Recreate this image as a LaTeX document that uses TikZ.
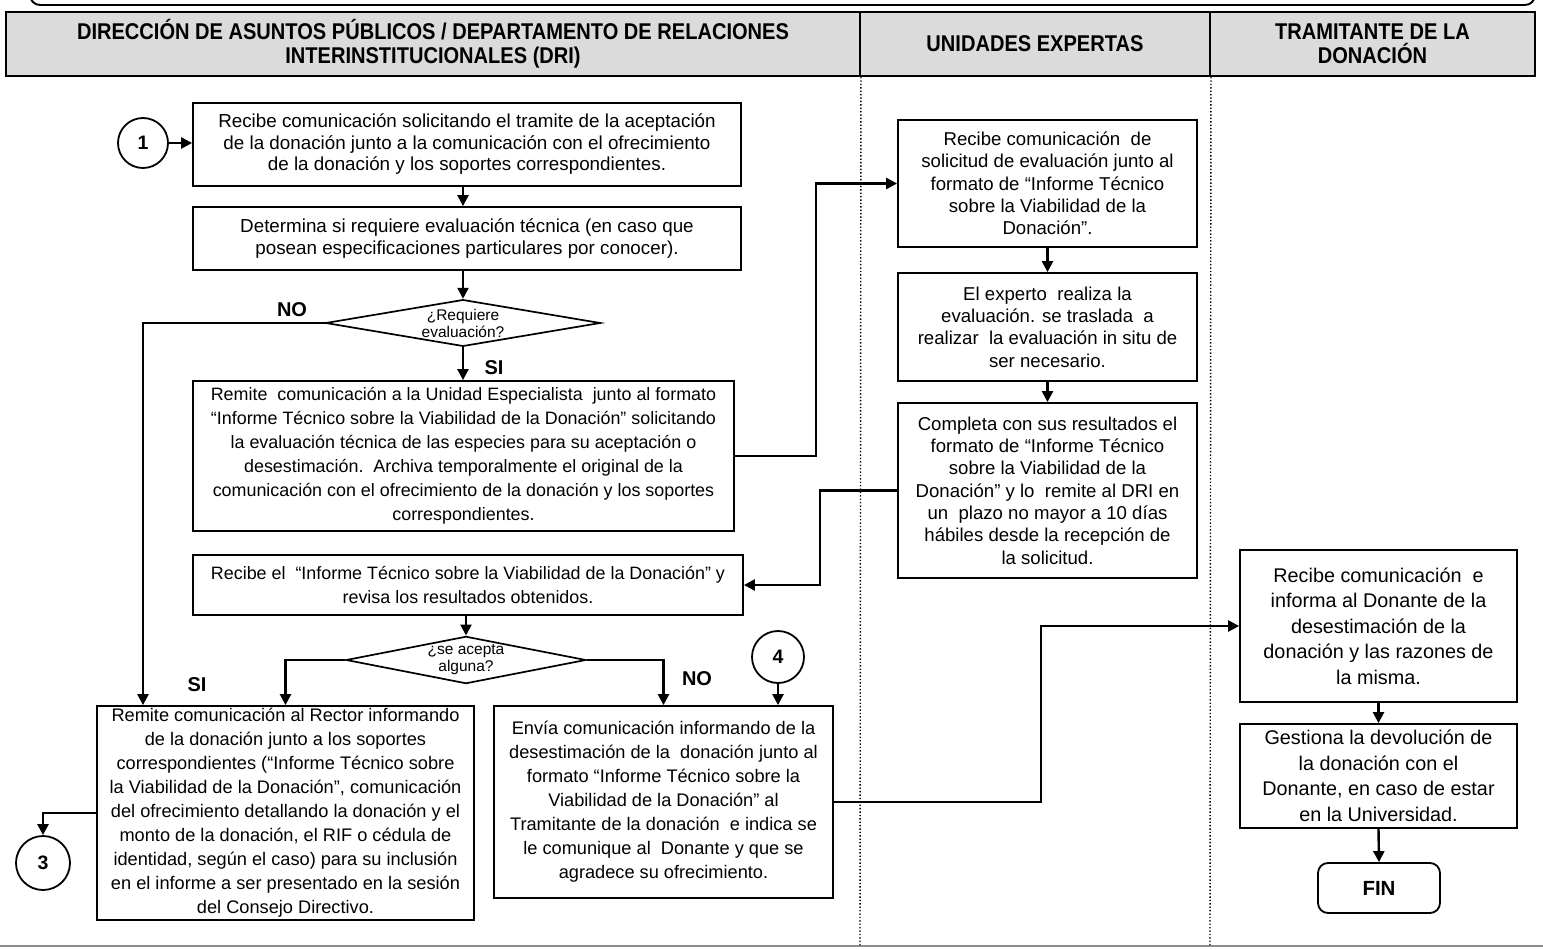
\documentclass[tikz,border=0pt]{standalone}
\usepackage{fontspec}
\setmainfont{Liberation Sans}
\newfontfamily\hdrfont{Liberation Sans}[FakeStretch=0.88]
\usetikzlibrary{arrows.meta,shapes.geometric,calc}

\newcommand\txtA{\fontsize{18.8}{21.5}\selectfont}
\newcommand\txtB{\fontsize{17.9}{24}\selectfont}
\newcommand\txtE{\fontsize{18.2}{24}\selectfont}
\newcommand\txtC{\fontsize{18.6}{22.3}\selectfont}
\newcommand\txtD{\fontsize{19.8}{25.5}\selectfont}
\newcommand\txtQ{\fontsize{15.5}{17}\selectfont}

\tikzset{
  box/.style={draw, line width=1.8pt, inner sep=0pt, align=center},
  lanehead/.style={draw, line width=1.9pt, fill=black!14, inner sep=0pt, align=center,
    font=\hdrfont\bfseries\fontsize{22.8}{24}\selectfont},
  decision/.style={draw, diamond, line width=1.7pt, inner sep=0pt, shape aspect=4.5,
    align=center, font=\txtQ},
  connector/.style={draw, circle, line width=1.8pt, inner sep=0pt,
    font=\bfseries\fontsize{19.5}{20}\selectfont},
  flow/.style={line width=2.4pt, -{Triangle[length=11pt,width=11pt]}},
  answer/.style={font=\bfseries\fontsize{20}{22}\selectfont},
  lanesep/.style={line width=1.4pt, dotted},
}

\begin{document}
\begin{tikzpicture}[x=1pt,y=-1pt]
\useasboundingbox (0,0) rectangle (1543,950);

% frame above the lanes and rule below
\draw[line width=1.9pt, rounded corners=10pt] (30,-40) -- (30,5) -- (1535,5) -- (1535,-40);
\draw[line width=2pt, black!45] (0,946) -- (1543,946);

% lane headers
\node[lanehead, minimum width=854, minimum height=64] (h1) at (433,44)
  {DIRECCIÓN DE ASUNTOS PÚBLICOS / DEPARTAMENTO DE RELACIONES\\INTERINSTITUCIONALES (DRI)};
\node[lanehead, minimum width=350, minimum height=64] (h2) at (1035,44) {UNIDADES EXPERTAS};
\node[lanehead, minimum width=325, minimum height=64] (h3) at (1372.5,44) {TRAMITANTE DE LA\\DONACIÓN};

% lane separators
\draw[lanesep] (h1.south east) -- (860,946);
\draw[lanesep] (h2.south east) -- (1210,946);

% DRI lane
\node[connector, minimum size=50] (c1) at (143,143) {1};
\node[box, font=\txtA, minimum width=548, minimum height=83] (a1) at (467,144.5)
  {Recibe comunicación solicitando el tramite de la aceptación\\
   de la donación junto a la comunicación con el ofrecimiento\\
   de la donación y los soportes correspondientes.};
\node[box, font=\txtA, minimum width=548, minimum height=63] (a2) at (467,238.5)
  {Determina si requiere evaluación técnica (en caso que\\
   posean especificaciones particulares por conocer).};
\node[decision, minimum width=275, minimum height=46] (d1) at (463,323)
  {¿Requiere\\evaluación?};
\node[box, font=\txtB, minimum width=541, minimum height=150] (a3) at (463.5,456)
  {Remite\ \ comunicación a la Unidad Especialista\ \ junto al formato\\
   “Informe Técnico sobre la Viabilidad de la Donación” solicitando\\
   la evaluación técnica de las especies para su aceptación o\\
   desestimación.\ \ Archiva temporalmente el original de la\\
   comunicación con el ofrecimiento de la donación y los soportes\\
   correspondientes.};
\node[box, font=\txtB, minimum width=550, minimum height=60] (a4) at (468,585)
  {Recibe el\ \ “Informe Técnico sobre la Viabilidad de la Donación” y\\
   revisa los resultados obtenidos.};
\node[decision, minimum width=240, minimum height=46] (d2) at (466,660)
  {¿se acepta\\alguna?};
\node[connector, minimum size=52] (c4) at (778,657) {4};
\node[box, font=\txtE, minimum width=377, minimum height=214] (a5) at (285.5,813)
  {Remite comunicación al Rector informando\\
   de la donación junto a los soportes\\
   correspondientes (“Informe Técnico sobre\\
   la Viabilidad de la Donación”, comunicación\\
   del ofrecimiento detallando la donación y el\\
   monto de la donación, el RIF o cédula de\\
   identidad, según el caso) para su inclusión\\
   en el informe a ser presentado en la sesión\\
   del Consejo Directivo.};
\node[box, font=\txtE, minimum width=339, minimum height=192] (a6) at (663.5,802)
  {Envía comunicación informando de la\\
   desestimación de la\ \ donación junto al\\
   formato “Informe Técnico sobre la\\
   Viabilidad de la Donación” al\\
   Tramitante de la donación\ \ e indica se\\
   le comunique al\ \ Donante y que se\\
   agradece su ofrecimiento.};
\node[connector, minimum size=54] (c3) at (43,863) {3};

% expert units lane
\node[box, font=\txtC, minimum width=299, minimum height=127] (b1) at (1047.5,183.5)
  {Recibe comunicación\ \ de\\
   solicitud de evaluación junto al\\
   formato de “Informe Técnico\\
   sobre la Viabilidad de la\\
   Donación”.};
\node[box, font=\txtC, minimum width=299, minimum height=108] (b2) at (1047.5,327)
  {El experto\ \ realiza la\\
   evaluación. se traslada\ \ a\\
   realizar\ \ la evaluación in situ de\\
   ser necesario.};
\node[box, font=\txtC, minimum width=299, minimum height=175] (b3) at (1047.5,490.5)
  {Completa con sus resultados el\\
   formato de “Informe Técnico\\
   sobre la Viabilidad de la\\
   Donación” y lo\ \ remite al DRI en\\
   un\ \ plazo no mayor a 10 días\\
   hábiles desde la recepción de\\
   la solicitud.};

% donation handler lane
\node[box, font=\txtD, minimum width=277, minimum height=152] (e1) at (1378.5,626)
  {Recibe comunicación\ \ e\\
   informa al Donante de la\\
   desestimación de la\\
   donación y las razones de\\
   la misma.};
\node[box, font=\txtD, minimum width=277, minimum height=104] (e2) at (1378.5,776)
  {Gestiona la devolución de\\
   la donación con el\\
   Donante, en caso de estar\\
   en la Universidad.};
\node[box, rounded corners=10pt, font=\bfseries\fontsize{20.5}{22}\selectfont,
  minimum width=122, minimum height=50] (fin) at (1379,888) {FIN};

% branch labels
\node[answer] (no1) at (292,310) {NO};
\node[answer] (si1) at (494,368) {SI};
\node[answer] (si2) at (197,685) {SI};
\node[answer] (no2) at (697,679) {NO};

% connectors
\draw[flow] (c1.east) -- (c1.east -| a1.west);
\draw[flow] (a1.south -| d1.north) -- (a2.north -| d1.north);
\draw[flow] (a2.south -| d1.north) -- (d1.north);
\draw[flow] (d1.west) -| (a5.north -| c1.center);
\draw[flow] (d1.south) -- (a3.north -| d1.south);
\draw[flow] (a3.east) -- ++(81,0) |- (b1.west);
\draw[flow] (b1.south) -- (b2.north);
\draw[flow] (b2.south) -- (b3.north);
\draw[flow] (b3.west) -- ++(-77,0) |- (a4.east);
\draw[flow] (a4.south -| d2.north) -- (d2.north);
\draw[flow] (d2.west) -| (a5.north);
\draw[flow] (d2.east) -| (a6.north);
\draw[flow] (c4.south) -- (c4.south |- a6.north);
\draw[flow] (a5.west) -| (c3.north);
\draw[flow] (a6.east) -- ++(207,0) |- (e1.west);
\draw[flow] (e1.south) -- (e2.north);
\draw[flow] (e2.south) -- (fin.north);
\end{tikzpicture}
\end{document}
